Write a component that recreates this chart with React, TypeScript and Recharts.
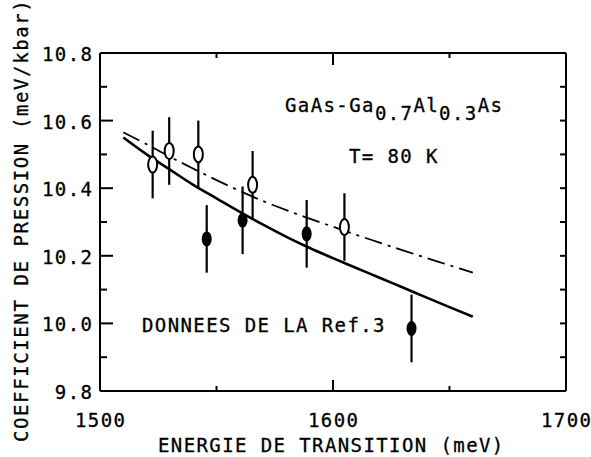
import { ComposedChart, ErrorBar, Line, Scatter, XAxis, YAxis } from "recharts"

const FONT = "'DejaVu Sans Mono', monospace"
const FS = 19
const LS = 1.4

// axes
const xTicks = [1500, 1550, 1600, 1650, 1700]
const xLabelTicks = [1500, 1600, 1700]
const yTicks = [9.8, 9.9, 10.0, 10.1, 10.2, 10.3, 10.4, 10.5, 10.6, 10.7, 10.8]
const yLabelTicks = [9.8, 10.0, 10.2, 10.4, 10.6, 10.8]

// open symbols (present work)
const openEnergy = [1522.6, 1529.7, 1542.2, 1565.5, 1604.9]
const openCoef = [10.47, 10.51, 10.5, 10.41, 10.285]
const openErr = [0.1, 0.1, 0.1, 0.1, 0.1]

// filled symbols (Ref.3)
const filledEnergy = [1545.8, 1561.2, 1588.7, 1633.7]
const filledCoef = [10.25, 10.305, 10.265, 9.985]
const filledErr = [0.1, 0.1, 0.1, 0.1]

// calculated curves
const curveEnergy = [1510, 1520, 1530, 1540, 1550, 1560, 1570, 1580, 1590, 1600, 1610, 1620, 1630, 1640, 1650, 1660]
const solidCoef = [10.55, 10.5, 10.455, 10.41, 10.37, 10.33, 10.292, 10.256, 10.223, 10.193, 10.164, 10.135, 10.106, 10.077, 10.048, 10.02]
const dashDotCoef = [10.565, 10.53, 10.493, 10.458, 10.424, 10.392, 10.362, 10.335, 10.31, 10.286, 10.262, 10.239, 10.216, 10.194, 10.172, 10.15]

const openData = openEnergy.map((x, i) => ({ x, y: openCoef[i], err: openErr[i] }))
const filledData = filledEnergy.map((x, i) => ({ x, y: filledCoef[i], err: filledErr[i] }))
const solidData = curveEnergy.map((x, i) => ({ x, y: solidCoef[i] }))
const dashDotData = curveEnergy.map((x, i) => ({ x, y: dashDotCoef[i] }))

const isIn = (list: number[], v: number) => list.some((t) => Math.abs(t - v) < 1e-6)

const textStyle = { fontFamily: FONT, fontSize: FS, letterSpacing: LS, fill: "#000", stroke: "#000", strokeWidth: 0.3 }

function LeftTick({ x, y, payload }: any) {
  const major = isIn(yLabelTicks, payload.value)
  return (
    <g>
      <line x1={x} x2={x + (major ? 13 : 7)} y1={y} y2={y} stroke="#000" strokeWidth={2} />
      {major ? (
        <text x={x - 8 + LS} y={y + 8} textAnchor="end" style={textStyle}>
          {payload.value.toFixed(1)}
        </text>
      ) : null}
    </g>
  )
}

function RightTick({ x, y }: any) {
  return <line x1={x} x2={x - 6} y1={y} y2={y} stroke="#000" strokeWidth={2} />
}

function BottomTick({ x, y, payload }: any) {
  const major = isIn(xLabelTicks, payload.value)
  return (
    <g>
      <line x1={x} x2={x} y1={y} y2={y - (major ? 11 : 5)} stroke="#000" strokeWidth={2} />
      {major ? (
        <text x={x + LS / 2} y={y + 36} textAnchor="middle" style={textStyle}>
          {payload.value}
        </text>
      ) : null}
    </g>
  )
}

function TopTick({ x, y, payload }: any) {
  const major = isIn(xLabelTicks, payload.value)
  return <line x1={x} x2={x} y1={y} y2={y + (major ? 12 : 5)} stroke="#000" strokeWidth={2} />
}

const OpenMark = ({ cx, cy }: any) => (
  <ellipse cx={cx} cy={cy} rx={4.5} ry={8} fill="#fff" stroke="#000" strokeWidth={2} />
)
const FilledMark = ({ cx, cy }: any) => <ellipse cx={cx} cy={cy} rx={5} ry={7.5} fill="#000" />
const NoMark = () => <g />

export default function App() {
  return (
    <div style={{ position: "absolute", left: 0, top: 0, width: 591, height: 457, background: "#fff" }}>
      <ComposedChart width={591} height={457} margin={{ top: 0, right: 0, bottom: 0, left: 0 }}>
        <XAxis
          xAxisId="bottom"
          dataKey="x"
          type="number"
          domain={[1500, 1700]}
          ticks={xTicks}
          interval={0}
          height={66}
          tickSize={0}
          tickMargin={0}
          tickLine={false}
          axisLine={{ stroke: "#000", strokeWidth: 2 }}
          tick={<BottomTick />}
          allowDataOverflow
        />
        <XAxis
          xAxisId="top"
          dataKey="x"
          orientation="top"
          type="number"
          domain={[1500, 1700]}
          ticks={xTicks}
          interval={0}
          height={53}
          tickSize={0}
          tickMargin={0}
          tickLine={false}
          axisLine={{ stroke: "#000", strokeWidth: 2 }}
          tick={<TopTick />}
          allowDataOverflow
        />
        <YAxis
          yAxisId="left"
          dataKey="y"
          type="number"
          domain={[9.8, 10.8]}
          ticks={yTicks}
          interval={0}
          width={100}
          tickSize={0}
          tickMargin={0}
          tickLine={false}
          axisLine={{ stroke: "#000", strokeWidth: 2 }}
          tick={<LeftTick />}
          allowDataOverflow
        />
        <YAxis
          yAxisId="right"
          dataKey="y"
          orientation="right"
          type="number"
          domain={[9.8, 10.8]}
          ticks={yTicks}
          interval={0}
          width={25}
          tickSize={0}
          tickMargin={0}
          tickLine={false}
          axisLine={{ stroke: "#000", strokeWidth: 2 }}
          tick={<RightTick />}
          allowDataOverflow
        />
        {/* invisible series so the top/right frame axes get ticks */}
        <Line
          xAxisId="top"
          yAxisId="right"
          data={solidData}
          dataKey="y"
          stroke="none"
          dot={false}
          activeDot={false}
          isAnimationActive={false}
        />
        <Line
          xAxisId="bottom"
          yAxisId="left"
          data={solidData}
          dataKey="y"
          type="monotone"
          stroke="#000"
          strokeWidth={2.6}
          dot={false}
          isAnimationActive={false}
        />
        <Line
          xAxisId="bottom"
          yAxisId="left"
          data={dashDotData}
          dataKey="y"
          type="monotone"
          stroke="#000"
          strokeWidth={1.8}
          strokeDasharray="18 6 3 6"
          dot={false}
          isAnimationActive={false}
        />
        <Scatter xAxisId="bottom" yAxisId="left" data={openData} shape={NoMark} isAnimationActive={false}>
          <ErrorBar dataKey="err" direction="y" width={0} stroke="#000" strokeWidth={2.2} isAnimationActive={false} />
        </Scatter>
        <Scatter xAxisId="bottom" yAxisId="left" data={filledData} shape={NoMark} isAnimationActive={false}>
          <ErrorBar dataKey="err" direction="y" width={0} stroke="#000" strokeWidth={2.2} isAnimationActive={false} />
        </Scatter>
        <Scatter xAxisId="bottom" yAxisId="left" data={openData} shape={OpenMark} isAnimationActive={false} />
        <Scatter xAxisId="bottom" yAxisId="left" data={filledData} shape={FilledMark} isAnimationActive={false} />
      </ComposedChart>
      <svg width={591} height={457} style={{ position: "absolute", left: 0, top: 0, pointerEvents: "none" }}>
        <text x={285} y={112} style={textStyle}>
          GaAs-Ga<tspan dy={8}>0.7</tspan>
          <tspan dy={-8}>Al</tspan>
          <tspan dy={8}>0.3</tspan>
          <tspan dy={-8}>As</tspan>
        </text>
        <text x={349} y={163} style={textStyle}>
          T= 80 K
        </text>
        <text x={142} y={332} style={textStyle}>
          DONNEES DE LA Ref.3
        </text>
        <text x={158} y={452} style={textStyle}>
          ENERGIE DE TRANSITION (meV)
        </text>
        <text x={27.5} y={442} transform="rotate(-90 27.5 442)" style={{ ...textStyle, letterSpacing: 1.6 }}>
          COEFFICIENT DE PRESSION (meV/kbar)
        </text>
      </svg>
    </div>
  )
}
